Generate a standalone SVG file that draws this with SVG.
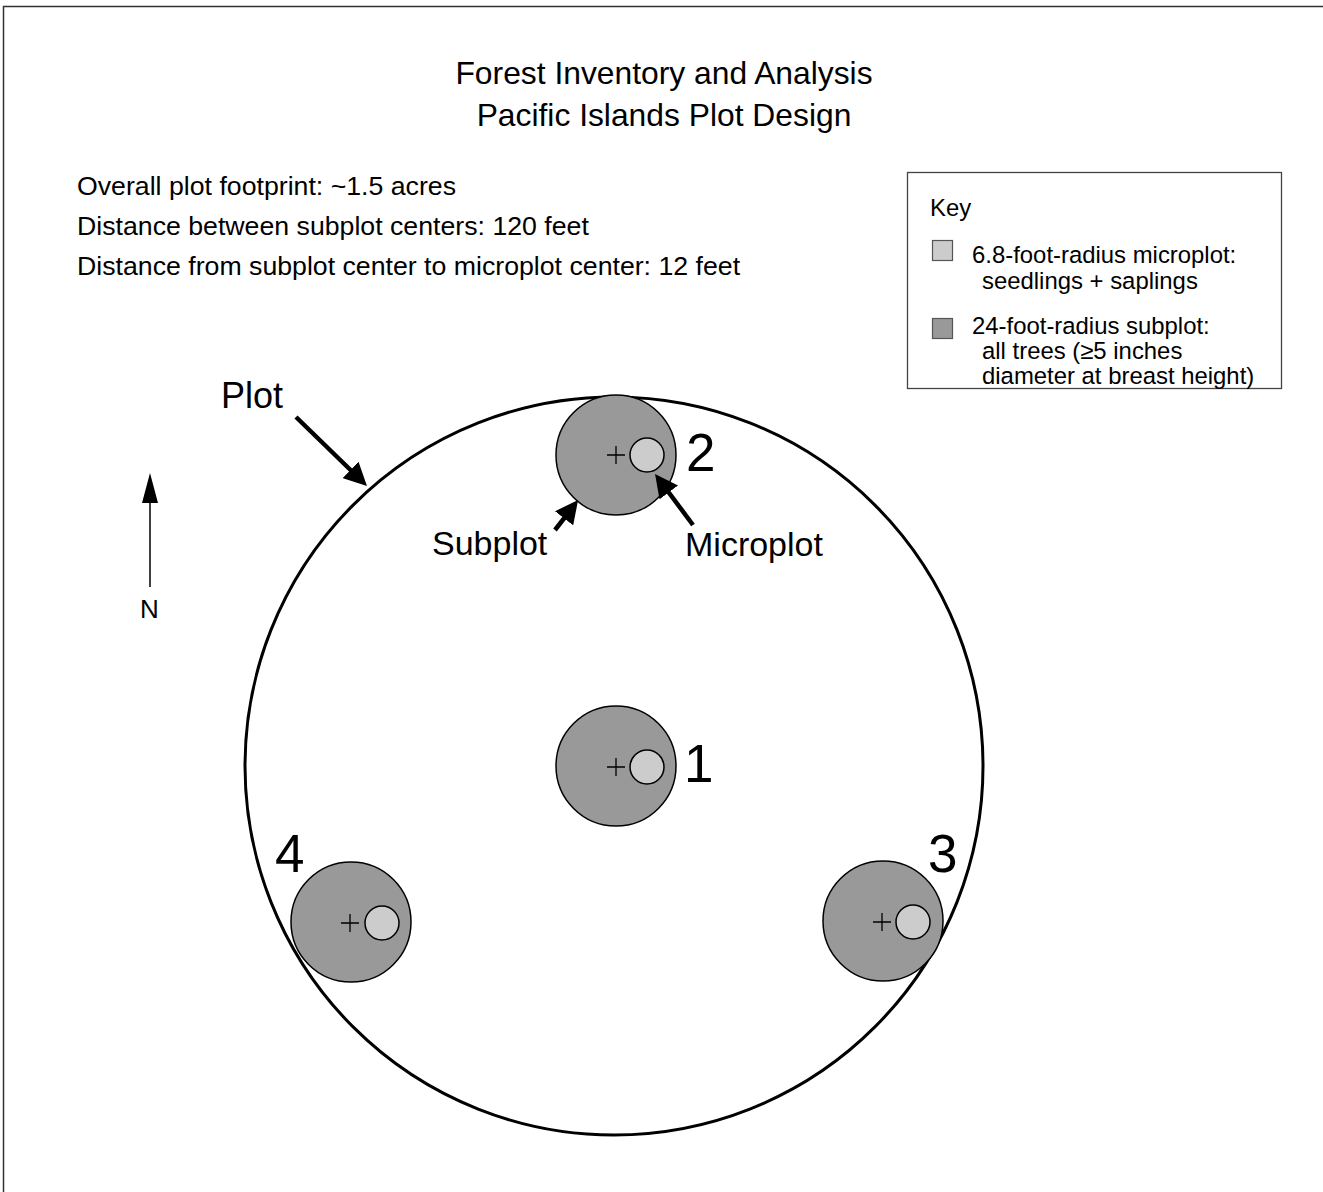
<svg xmlns="http://www.w3.org/2000/svg" width="1323" height="1192" viewBox="0 0 1323 1192">
<style>
text{font-family:"Liberation Sans",Arial,sans-serif;fill:#000}
.title{font-size:31.8px;text-anchor:middle}
.info{font-size:26.7px}
.key{font-size:23.9px}
.lbl{font-size:34px}
.num{font-size:53px}
.sub{fill:#999999;stroke:#000;stroke-width:1.5}
.mic{fill:#cccccc;stroke:#000;stroke-width:1.5}
.cross{stroke:#000;stroke-width:1.3}
.arr{stroke:#000;stroke-width:4.5;fill:none;marker-end:url(#head)}
</style>
<defs>
<marker id="head" viewBox="0 0 23 23" refX="13" refY="11.5" markerWidth="23" markerHeight="23" markerUnits="userSpaceOnUse" orient="auto"><path d="M0,0 L23,11.5 L0,23 Z" fill="#000"/></marker>
<marker id="nhead" viewBox="0 0 30 16" refX="20" refY="8" markerWidth="30" markerHeight="16" markerUnits="userSpaceOnUse" orient="auto"><path d="M0,0 L30,8 L0,16 Z" fill="#000"/></marker>
</defs>
<rect x="0" y="0" width="1323" height="1192" fill="#fff"/>
<rect x="3.5" y="6.5" width="1340" height="1200" fill="none" stroke="#333" stroke-width="1.5"/>
<g id="title">
<text class="title" x="664" y="84">Forest Inventory and Analysis</text>
<text class="title" x="664" y="126">Pacific Islands Plot Design</text>
</g>
<g id="info">
<text class="info" x="77" y="195">Overall plot footprint: ~1.5 acres</text>
<text class="info" x="77" y="235">Distance between subplot centers: 120 feet</text>
<text class="info" x="77" y="275">Distance from subplot center to microplot center: 12 feet</text>
</g>
<g id="key">
<rect x="907.5" y="172.5" width="374" height="216" fill="#fff" stroke="#444" stroke-width="1.3"/>
<text class="key" x="930" y="216">Key</text>
<rect x="932.5" y="240.5" width="20" height="20" fill="#cccccc" stroke="#555" stroke-width="1.2"/>
<text class="key" x="972" y="263">6.8-foot-radius microplot:</text>
<text class="key" x="982" y="289">seedlings + saplings</text>
<rect x="932.5" y="318.5" width="20" height="20" fill="#999999" stroke="#555" stroke-width="1.2"/>
<text class="key" x="972" y="334">24-foot-radius subplot:</text>
<text class="key" x="982" y="359">all trees (≥5 inches</text>
<text class="key" x="982" y="384">diameter at breast height)</text>
</g>
<g id="plot">
<circle cx="614" cy="766" r="369" fill="none" stroke="#000" stroke-width="3"/>
</g>
<g id="subplot1">
<circle class="sub" cx="616" cy="766" r="60"/>
<path class="cross" d="M607,767 H625 M616,758 V776"/>
<circle class="mic" cx="647" cy="767" r="17"/>
<text class="num" x="684" y="782">1</text>
</g>
<g id="subplot2">
<circle class="sub" cx="616" cy="455" r="60"/>
<path class="cross" d="M607,455 H625 M616,446 V464"/>
<circle class="mic" cx="647" cy="455" r="17"/>
<text class="num" x="686" y="471">2</text>
</g>
<g id="subplot3">
<circle class="sub" cx="883" cy="921" r="60"/>
<path class="cross" d="M873,922 H891 M882,913 V931"/>
<circle class="mic" cx="913" cy="922" r="17"/>
<text class="num" x="928" y="872">3</text>
</g>
<g id="subplot4">
<circle class="sub" cx="351" cy="922" r="60"/>
<path class="cross" d="M341,923 H359 M350,914 V932"/>
<circle class="mic" cx="382" cy="923" r="17"/>
<text class="num" x="275" y="872">4</text>
</g>
<g id="labels">
<text class="lbl" x="221" y="408" style="font-size:36px">Plot</text>
<text class="lbl" x="432" y="555">Subplot</text>
<text class="lbl" x="685" y="556">Microplot</text>
<text x="140" y="618" style="font-size:26px">N</text>
</g>
<g id="connectors">
<line class="arr" x1="296" y1="417" x2="359.8" y2="479"/>
<line class="arr" x1="555" y1="530" x2="572" y2="508"/>
<line class="arr" x1="693" y1="525" x2="661" y2="482"/>
<line x1="150" y1="587" x2="150" y2="483" stroke="#000" stroke-width="1.5" marker-end="url(#nhead)"/>
</g>
</svg>
